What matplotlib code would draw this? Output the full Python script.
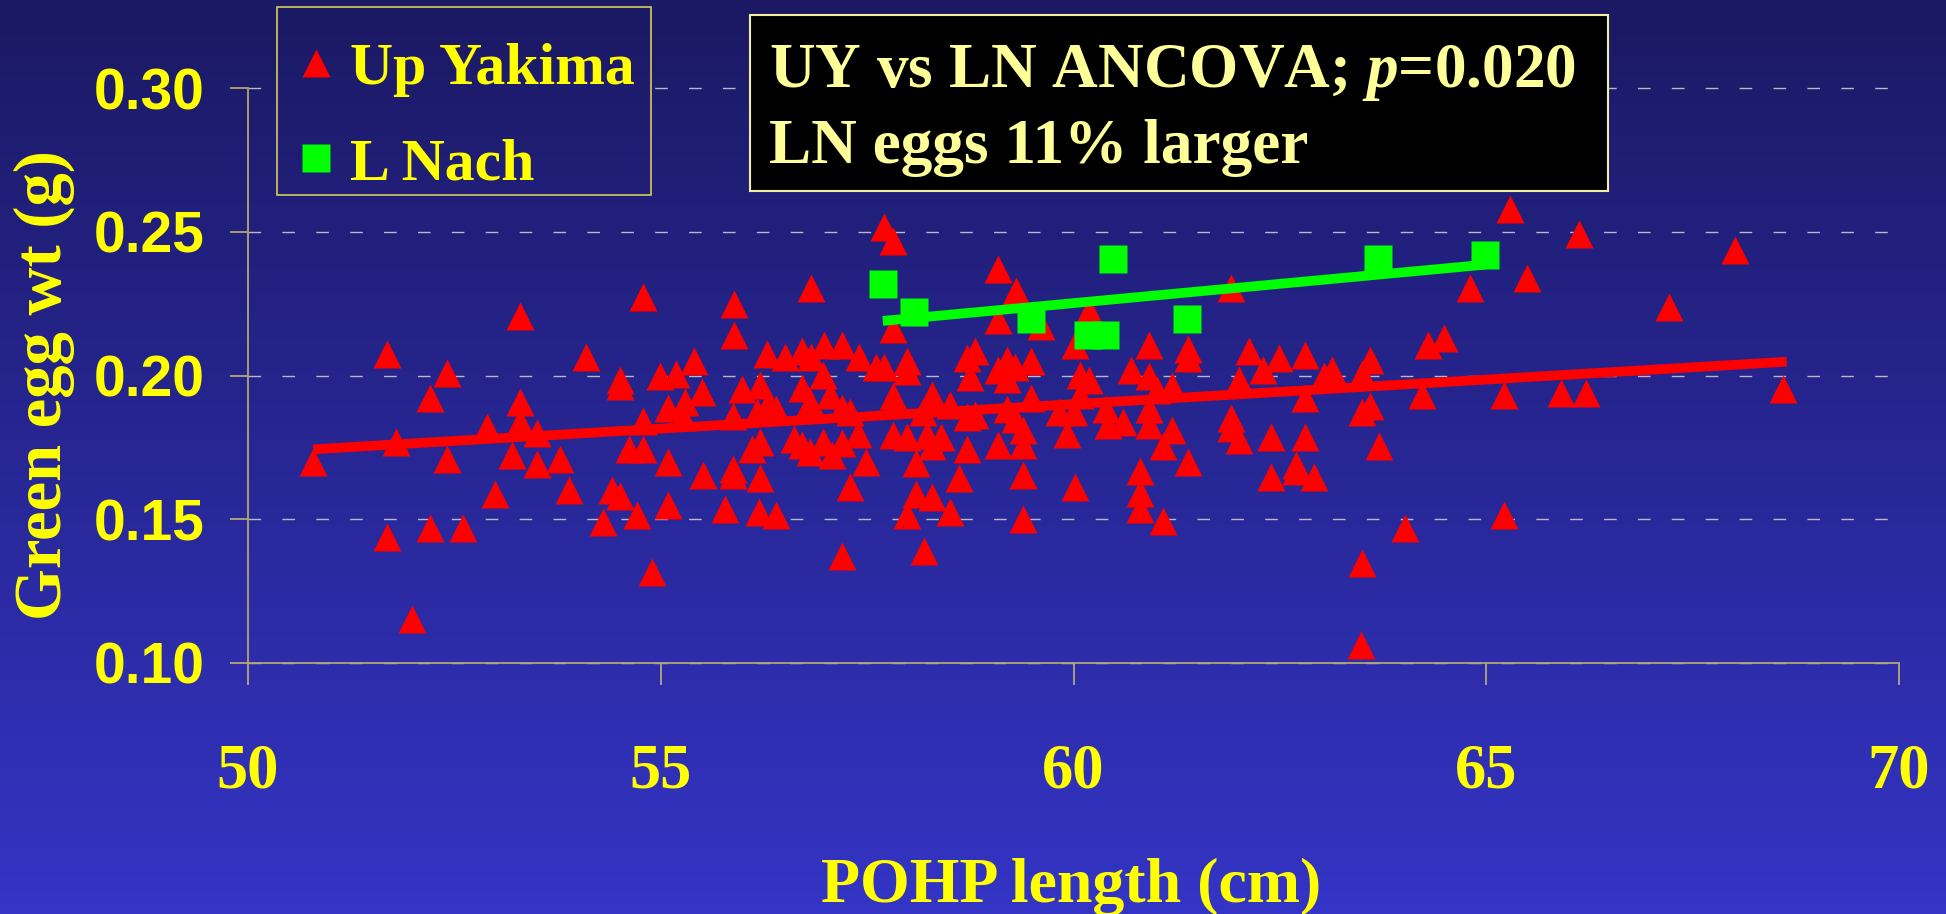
import numpy as np
import matplotlib
matplotlib.use("Agg")
import matplotlib.pyplot as plt
from matplotlib.colors import LinearSegmentedColormap
from matplotlib.patches import Rectangle

# Up Yakima: POHP length (cm) and green egg weight (g)
uy_len = [
    54.78, 53.30, 51.68, 54.09, 52.41, 54.51, 54.51, 54.99, 55.19, 55.40,
    52.20, 53.30, 55.09, 55.29, 52.89, 53.30, 53.50, 54.78, 55.27, 51.79,
    50.79, 52.41, 53.20, 53.50, 53.78, 54.61, 54.78, 55.09, 52.99, 53.89,
    54.41, 54.51, 55.09, 54.71, 54.30, 51.68, 52.20, 52.61, 54.89, 51.99,
    57.71, 57.81, 59.09, 56.82, 55.89, 59.30, 60.19, 55.89, 57.81, 59.09,
    59.61, 60.02, 56.29, 56.51, 56.71, 56.82, 56.98, 57.19, 57.40, 57.61,
    57.71, 57.98, 57.98, 58.71, 58.81, 58.75, 59.19, 59.29, 59.49, 59.09,
    59.19, 60.08, 60.19, 60.08, 55.50, 55.98, 55.88, 56.20, 56.30, 56.40,
    56.16, 56.71, 56.81, 56.97, 57.05, 57.19, 57.29, 57.81, 58.29, 58.18,
    58.50, 58.71, 58.81, 59.19, 59.49, 59.82, 60.00, 59.29, 56.20, 56.10,
    56.61, 56.71, 56.81, 56.97, 57.07, 57.19, 57.39, 57.49, 57.81, 57.98,
    58.09, 58.22, 58.40, 58.29, 58.71, 59.09, 59.39, 59.39, 59.92, 55.51,
    55.88, 55.88, 56.20, 57.29, 58.09, 58.61, 58.29, 59.39, 60.02, 55.78,
    56.19, 56.40, 57.98, 58.50, 59.39, 57.19, 58.19,
    61.91, 64.80, 60.91, 61.39, 61.39, 62.12, 62.49, 62.80, 64.29, 64.49,
    63.59, 60.70, 60.91, 61.01, 61.19, 62.00, 62.29, 63.03, 63.13, 63.50,
    60.39, 60.60, 60.42, 60.91, 60.91, 62.80, 64.22, 63.59, 63.50, 61.19,
    61.91, 61.91, 61.09, 61.39, 62.01, 62.39, 62.80, 63.70, 62.70, 62.70,
    62.91, 62.39, 60.81, 60.81, 60.81, 61.09, 64.01, 63.50,
    65.29, 66.12, 68.01, 65.49, 67.21, 65.22, 65.91, 66.21, 68.59, 65.22,
    63.48,
]
uy_wt = [
    0.2272, 0.2206, 0.2075, 0.2064, 0.2009, 0.1985, 0.1963, 0.1997, 0.2004, 0.2052,
    0.1920, 0.1908, 0.1887, 0.1907, 0.1822, 0.1838, 0.1799, 0.1843, 0.1856, 0.1767,
    0.1699, 0.1711, 0.1723, 0.1692, 0.1711, 0.1743, 0.1743, 0.1699, 0.1588, 0.1600,
    0.1600, 0.1580, 0.1548, 0.1513, 0.1490, 0.1437, 0.1469, 0.1469, 0.1315, 0.1151,
    0.2516, 0.2470, 0.2371, 0.2305, 0.2250, 0.2295, 0.2224, 0.2140, 0.2163, 0.2194,
    0.2172, 0.2107, 0.2075, 0.2064, 0.2084, 0.2064, 0.2107, 0.2107, 0.2064, 0.2031,
    0.2031, 0.2052, 0.2017, 0.2061, 0.2085, 0.1996, 0.2053, 0.2031, 0.2052, 0.2019,
    0.1987, 0.2002, 0.1984, 0.1932, 0.1943, 0.1954, 0.1858, 0.1967, 0.1902, 0.1885,
    0.1873, 0.1956, 0.1908, 0.2002, 0.1932, 0.1886, 0.1873, 0.1927, 0.1932, 0.1873,
    0.1897, 0.1856, 0.1862, 0.1885, 0.1920, 0.1874, 0.1874, 0.1850, 0.1768, 0.1745,
    0.1780, 0.1758, 0.1733, 0.1768, 0.1723, 0.1765, 0.1798, 0.1699, 0.1792, 0.1786,
    0.1694, 0.1792, 0.1787, 0.1753, 0.1744, 0.1757, 0.1809, 0.1757, 0.1798, 0.1655,
    0.1675, 0.1652, 0.1643, 0.1611, 0.1587, 0.1643, 0.1578, 0.1653, 0.1612, 0.1536,
    0.1524, 0.1513, 0.1513, 0.1523, 0.1502, 0.1370, 0.1389,
    0.2304, 0.2304, 0.2106, 0.2094, 0.2061, 0.2085, 0.2061, 0.2073, 0.2106, 0.2129,
    0.2053, 0.2018, 0.1997, 0.1950, 0.1962, 0.1984, 0.2018, 0.1997, 0.2018, 0.2006,
    0.1885, 0.1839, 0.1828, 0.1885, 0.1828, 0.1920, 0.1932, 0.1895, 0.1874, 0.1809,
    0.1853, 0.1818, 0.1753, 0.1699, 0.1776, 0.1787, 0.1787, 0.1754, 0.1687, 0.1667,
    0.1645, 0.1645, 0.1668, 0.1590, 0.1536, 0.1492, 0.1469, 0.1348,
    0.2579, 0.2491, 0.2437, 0.2338, 0.2239, 0.1932, 0.1940, 0.1940, 0.1953, 0.1513,
    0.1063,
]

# L Nach
ln_len = [57.69, 58.07, 59.49, 60.17, 60.38, 60.48, 61.38, 63.69, 64.99]
ln_wt = [0.2318, 0.2220, 0.2198, 0.2142, 0.2142, 0.2407, 0.2197, 0.2407, 0.2418]

# trend lines as drawn on the slide
uy_fit_len = [50.79, 68.64]
uy_fit_wt = [0.1743, 0.2048]
ln_fit_len = [57.69, 64.99]
ln_fit_wt = [0.2190, 0.2386]

x_ticks = [50, 55, 60, 65, 70]
y_ticks = [0.10, 0.15, 0.20, 0.25, 0.30]

W, H = 1946, 914
YELLOW = "#ffff00"
SERIF = "Liberation Serif"
SANS = "Liberation Sans"

plt.rcParams["mathtext.fontset"] = "custom"
plt.rcParams["mathtext.rm"] = "Liberation Serif:bold"
plt.rcParams["mathtext.it"] = "Liberation Serif:italic:bold"

fig = plt.figure(figsize=(W / 100, H / 100), dpi=100)

# slide background gradient (bottom -> top)
bg_cmap = LinearSegmentedColormap.from_list("bg", ["#3434c6", "#1b1963"])
grad = np.linspace(0, 1, 256).reshape(-1, 1)
bg = fig.add_axes([0, 0, 1, 1], zorder=-10)
bg.imshow(grad, extent=[0, 1, 0, 1], origin="lower", aspect="auto", cmap=bg_cmap)
bg.set_xlim(0, 1)
bg.set_ylim(0, 1)
bg.axis("off")

ax = fig.add_axes([248 / W, 1 - 662.7 / H, (1899 - 248) / W, (662.7 - 88.3) / H])
ax.set_facecolor("none")

ax.plot(uy_len, uy_wt, ls="none", marker="^", ms=20, mfc="#ff0000", mec="none",
        zorder=2, clip_on=False, label="Up Yakima")
ax.plot(uy_fit_len, uy_fit_wt, color="#ff0000", lw=7, zorder=3, solid_capstyle="butt")
ax.plot(ln_len, ln_wt, ls="none", marker="s", ms=20, mfc="#00ff00", mec="none",
        zorder=4, clip_on=False, label="L Nach")
ax.plot(ln_fit_len, ln_fit_wt, color="#00ff00", lw=7, zorder=5, solid_capstyle="butt")

ax.set_xlim(50, 70)
ax.set_ylim(0.10, 0.30)

ax.set_xticks(x_ticks, labels=[str(v) for v in x_ticks], fontfamily=SERIF,
              fontweight="bold", fontsize=45, color=YELLOW)
ax.set_yticks(y_ticks, labels=[f"{v:.2f}" for v in y_ticks], fontfamily=SANS,
              fontweight="bold", fontsize=41, color=YELLOW)
ax.tick_params(axis="x", direction="out", length=16, width=1.1, color="#c8c070", pad=42)
ax.tick_params(axis="y", direction="out", length=13, width=1.1, color="#c8c070", pad=18)

for side in ["top", "right"]:
    ax.spines[side].set_visible(False)
for side in ["left", "bottom"]:
    ax.spines[side].set_color("#b0a870")
    ax.spines[side].set_linewidth(1.3)

ax.set_axisbelow(True)
ax.yaxis.grid(True, color="#b8b8c8", lw=1.0, ls=(0, (9.1, 15.3)))
for gl in ax.get_ygridlines():
    gl.set_clip_on(False)

ax.set_xlabel("POHP length (cm)", fontfamily=SERIF, fontweight="bold",
              fontsize=46, color=YELLOW)
ax.xaxis.set_label_coords(0.4985, -0.339)
ax.set_ylabel("Green egg wt (g)", fontfamily=SERIF, fontweight="bold",
              fontsize=48, color=YELLOW, va="center")
ax.yaxis.set_label_coords(-0.1236, 0.4835)

# legend box: background patch hides the grid, frame drawn separately
lg_box = [277 / W, 1 - 195 / H, (651 - 277) / W, (195 - 7) / H]
bg2 = fig.add_axes(lg_box, zorder=1)
bg2.imshow(grad, extent=[0, 1, 0, 1], origin="lower", aspect="auto", cmap=bg_cmap)
bg2.set_xlim(lg_box[0], lg_box[0] + lg_box[2])
bg2.set_ylim(lg_box[1], lg_box[1] + lg_box[3])
bg2.axis("off")
fig.add_artist(Rectangle((lg_box[0], lg_box[1]), lg_box[2], lg_box[3],
                         transform=fig.transFigure, facecolor="none",
                         edgecolor="#d4cc5a", lw=1.2, zorder=5))

handles, labels = ax.get_legend_handles_labels()
leg = fig.legend(handles, labels, loc="upper left",
                 bbox_to_anchor=(277 / W, 1 - 7 / H), bbox_transform=fig.transFigure,
                 prop={"family": SERIF, "weight": "bold", "size": 43},
                 labelcolor=YELLOW, frameon=False, borderpad=0.59,
                 handlelength=0.14, handletextpad=0.5, labelspacing=0.675,
                 borderaxespad=0)
leg.set_zorder(6)

# statistics box
fig.add_artist(Rectangle((750 / W, 1 - 191 / H), 858 / W, 176 / H,
                         transform=fig.transFigure, facecolor="black",
                         edgecolor="#f2f0a0", lw=1.5, zorder=4))
fig.text(769 / W, 1 - 87 / H, r"UY vs LN ANCOVA; $p$=0.020", fontfamily=SERIF,
         fontweight="bold", fontsize=45.5, color="#ffff99", va="baseline", zorder=6)
fig.text(769 / W, 1 - 163 / H, "LN eggs 11% larger", fontfamily=SERIF,
         fontweight="bold", fontsize=45.5, color="#ffff99", va="baseline", zorder=6)

fig.savefig("out.png", dpi=100)
plt.close(fig)
